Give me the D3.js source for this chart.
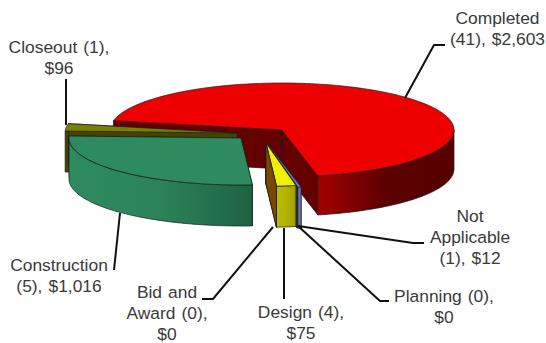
<!DOCTYPE html>
<html><head><meta charset="utf-8">
<script src="https://cdn.jsdelivr.net/npm/d3@7"></script>
<style>html,body{margin:0;padding:0;background:#fff}svg{display:block}text{font-family:"Liberation Sans",Arial,sans-serif;font-size:17.4px;word-spacing:1.2px;fill:#3a3a3a}</style>
</head><body><script>
const categories=["Completed","Not Applicable","Planning","Design","Bid and Award","Construction","Closeout"];
const counts=[41,1,0,4,0,5,1];
const amounts=[2603,12,0,75,0,1016,96];
const topColors=["#ee0000","#6f78c4","#8a9a5b","#f0f000","#7a4800","#2e8b5f","#7d7d00"];
const wallColors=["#640000","#4a5090","#555566","#7a4800","#7a4800","#2a7a54","#444400"];
const rimStops=[["#a80000","#5c0000","#560000"],["#6a72b4","#6a72b4","#6a72b4"],["#888888","#888888","#888888"],["#bcbc00","#b4b400","#a0a000"],["#7a4800","#7a4800","#7a4800"],["#2e8b5f","#2c8259","#1f6242"],["#444400","#444400","#444400"]];
const centersX=[282,266,266,266,266,241,237];
const centersY=[130,142,143,143,143,138,133];
const radiusScale=[1,0.98,0.95,0.92,0.92,1,1];
const depths=[39,41,41,41,41,41,41];
const rimSpanX=[[315,455],[297,301],[297,301],[275,296],[275,296],[70,252],[64,70]];
const labelLines=[["Completed","(41), $2,603"],["Not","Applicable","(1), $12"],["Planning (0),","$0"],["Design (4),","$75"],["Bid and","Award (0),","$0"],["Construction","(5), $1,016"],["Closeout (1),","$96"]];
const labelX=[497.5,470,444,301,167,59,59];
const labelY=[24,222,302,318,298,271,53];
const leaders=[[[405,98],[434,45],[445,45]],[[298,226],[413,243],[424,243]],[[298,226],[380,301],[389,301]],[[284,228],[284,299]],[[273,227],[213,299],[202,299]],[[120,213],[114,270]],[[66,125],[66,79]]];

const W=546,H=343,RX=172,RY=47;
const svg=d3.select("body").append("svg").attr("width",W).attr("height",H);
const pie=d3.pie().value(d=>d).sort(null).startAngle(-78.5*Math.PI/180).endAngle((360-78.5)*Math.PI/180);
const arcs=pie(amounts);
const px=d3.scaleLinear().domain([-1,1]).range([-RX,RX]);
const py=d3.scaleLinear().domain([-1,1]).range([-RY,RY]);
const line=d3.line().x(d=>d[0]).y(d=>d[1]);
const defs=svg.append("defs");
function pt(i,t,dz){const r=radiusScale[i];return [centersX[i]+px(Math.sin(t)*r),centersY[i]-py(Math.cos(t)*r)+(dz||0)];}
function samples(a,b){const n=Math.max(2,Math.ceil(Math.abs(b-a)*40));return d3.range(n+1).map(k=>a+(b-a)*k/n);}
function poly(g,points,fill,sw){g.append("path").attr("d",line(points)+"Z").attr("fill",fill).attr("stroke","#1a1a1a").attr("stroke-width",sw===undefined?0.7:sw).attr("stroke-linejoin","round");}
categories.forEach((c,i)=>{const gr=defs.append("linearGradient").attr("id","rim"+i).attr("gradientUnits","userSpaceOnUse").attr("x1",rimSpanX[i][0]).attr("x2",rimSpanX[i][1]).attr("y1",0).attr("y2",0);
 rimStops[i].forEach((s,k)=>gr.append("stop").attr("offset",k/2).attr("stop-color",s));});
const g=svg.append("g");
const order=[0,6,5,1,2,3,4];
order.forEach(i=>{const a=arcs[i],s=a.startAngle,e=a.endAngle,D=depths[i];const cb=[centersX[i],centersY[i]];const ct=[cb[0],cb[1]+D];
 const wall=t=>[cb,pt(i,t),pt(i,t,D),ct];
 poly(g,wall(s),wallColors[i]);
 poly(g,wall(e),wallColors[i]);
 const lo=Math.max(s,Math.PI/2),hi=Math.min(e,1.5*Math.PI);
 if(hi>lo){const ts=samples(lo,hi);poly(g,ts.map(t=>pt(i,t)).concat(ts.slice().reverse().map(t=>pt(i,t,D))),`url(#rim${i})`);}
 if(e>s){poly(g,[cb].concat(samples(s,e).map(t=>pt(i,t))),topColors[i]);}
});
leaders.forEach(l=>svg.append("path").attr("d",line(l)).attr("fill","none").attr("stroke","#111").attr("stroke-width",2));
labelLines.forEach((ls,i)=>{const t=svg.append("text").attr("text-anchor","middle");ls.forEach((s,k)=>t.append("tspan").attr("x",labelX[i]).attr("y",labelY[i]+k*21).text(s));});
</script></body></html>
